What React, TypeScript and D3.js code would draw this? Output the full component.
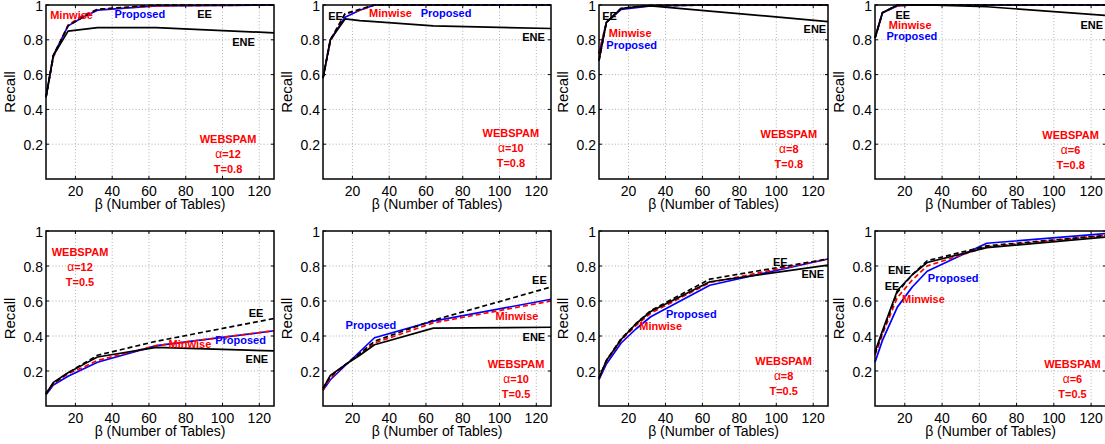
import React from "react";
import * as d3 from "d3";

// ---- data ----
const tables = [4, 8, 16, 24, 32, 64, 128];
const xTickValues = [20, 40, 60, 80, 100, 120];
const yTickValues = [0.2, 0.4, 0.6, 0.8, 1];
const yTickLabels = ["0.2", "0.4", "0.6", "0.8", "1"];
const datasetName = "WEBSPAM";
const alphas = [12, 10, 8, 6, 12, 10, 8, 6];
const thresholds = ["0.8", "0.8", "0.8", "0.8", "0.5", "0.5", "0.5", "0.5"];

const proposedRecall = [
  [0.47, 0.71, 0.88, 0.93, 0.97, 0.995, 1.0],
  [0.58, 0.8, 0.93, 0.97, 1.0, 1.0, 1.0],
  [0.72, 0.9, 0.975, 0.985, 0.995, 1.0, 1.0],
  [0.81, 0.955, 0.995, 1.0, 1.0, 1.0, 1.0],
  [0.065, 0.12, 0.17, 0.21, 0.25, 0.345, 0.43],
  [0.09, 0.15, 0.23, 0.31, 0.39, 0.485, 0.61],
  [0.15, 0.24, 0.36, 0.44, 0.51, 0.69, 0.84],
  [0.25, 0.375, 0.565, 0.68, 0.77, 0.93, 0.985],
];
const minwiseRecall = [
  [0.47, 0.7, 0.885, 0.94, 0.975, 0.995, 1.0],
  [0.58, 0.79, 0.95, 0.97, 1.0, 1.0, 1.0],
  [0.72, 0.9, 0.98, 0.99, 1.0, 1.0, 1.0],
  [0.81, 0.955, 0.995, 1.0, 1.0, 1.0, 1.0],
  [0.07, 0.125, 0.185, 0.22, 0.26, 0.345, 0.43],
  [0.09, 0.16, 0.235, 0.295, 0.36, 0.475, 0.6],
  [0.155, 0.255, 0.375, 0.46, 0.53, 0.705, 0.84],
  [0.29, 0.41, 0.62, 0.72, 0.8, 0.91, 0.975],
];
const eeRecall = [
  [0.47, 0.71, 0.88, 0.93, 0.975, 1.0, 1.0],
  [0.58, 0.8, 0.95, 0.975, 1.0, 1.0, 1.0],
  [0.68, 0.9, 0.98, 0.99, 0.995, 1.0, 1.0],
  [0.81, 0.955, 1.0, 1.0, 1.0, 1.0, 1.0],
  [0.07, 0.13, 0.19, 0.24, 0.29, 0.37, 0.5],
  [0.1, 0.17, 0.235, 0.3, 0.37, 0.49, 0.68],
  [0.16, 0.26, 0.385, 0.47, 0.545, 0.725, 0.84],
  [0.3, 0.42, 0.65, 0.75, 0.83, 0.915, 0.975],
];
const eneRecall = [
  [0.47, 0.71, 0.85, 0.86, 0.87, 0.87, 0.84],
  [0.58, 0.8, 0.92, 0.91, 0.905, 0.88, 0.865],
  [0.68, 0.9, 0.98, 0.99, 0.995, 0.965, 0.905],
  [0.81, 0.955, 1.0, 1.0, 1.0, 0.99, 0.94],
  [0.07, 0.135, 0.19, 0.235, 0.28, 0.335, 0.315],
  [0.1, 0.175, 0.235, 0.29, 0.35, 0.445, 0.45],
  [0.16, 0.26, 0.38, 0.47, 0.54, 0.71, 0.805],
  [0.31, 0.43, 0.66, 0.75, 0.82, 0.905, 0.965],
];

// ---- layout / styles ----
const W = 1105;
const H = 444;
const colBounds = [
  [46, 274],
  [323, 551],
  [599, 828],
  [875, 1106],
];
const rowBounds = [
  [5, 179],
  [231, 406],
];

const seriesStyles = [
  { name: "Proposed", data: proposedRecall, color: "#0000ff", dash: null },
  { name: "Minwise", data: minwiseRecall, color: "#ff0000", dash: "5,3" },
  { name: "EE", data: eeRecall, color: "#000000", dash: "5,3" },
  { name: "ENE", data: eneRecall, color: "#000000", dash: null },
];
const drawOrder = [0, 1, 2, 3];

// annotation anchor positions in data coordinates (x: tables, y: recall)
const labelPos = [
  { Proposed: [55, 0.948], Minwise: [17.9, 0.943], EE: [90.2, 0.948], ENE: [111.4, 0.787], info: [103, 0.23] },
  { Proposed: [70.9, 0.954], Minwise: [40.7, 0.954], EE: [10.8, 0.937], ENE: [118.5, 0.816], info: [106.2, 0.264] },
  { Proposed: [21.7, 0.77], Minwise: [20.9, 0.839], EE: [9.7, 0.937], ENE: [120.9, 0.862], info: [106.8, 0.259] },
  { Proposed: [23.8, 0.822], Minwise: [22.9, 0.885], EE: [18.9, 0.943], ENE: [120.4, 0.885], info: [109, 0.253] },
  { Proposed: [109.8, 0.377], Minwise: [82.3, 0.354], EE: [118.2, 0.531], ENE: [118.7, 0.269], info: [22.5, 0.88] },
  { Proposed: [30.1, 0.463], Minwise: [109.5, 0.514], EE: [121.7, 0.72], ENE: [118.7, 0.394], info: [109, 0.24] },
  { Proposed: [54, 0.526], Minwise: [37.4, 0.457], EE: [102.2, 0.823], ENE: [119.8, 0.754], info: [104, 0.257] },
  { Proposed: [46, 0.731], Minwise: [30, 0.611], EE: [13.2, 0.686], ENE: [17, 0.777], info: [110, 0.24] },
];

const FONT = "'Liberation Sans', Arial, Helvetica, sans-serif";

function Panel({ idx }: { idx: number }) {
  const col = idx % 4;
  const row = Math.floor(idx / 4);
  const [x0, x1] = colBounds[col];
  const [y0, y1] = rowBounds[row];
  const x = d3.scaleLinear().domain([4, 128]).range([x0, x1]);
  const y = d3.scaleLinear().domain([0, 1]).range([y1, y0]);
  const line = d3
    .line<number>()
    .x((_, i) => x(tables[i]))
    .y((v) => y(v));
  const pos = labelPos[idx];

  return (
    <g>
      {xTickValues.map((t) => (
        <line key={"gx" + t} x1={x(t)} x2={x(t)} y1={y1} y2={y0} stroke="#9a9a9a" strokeWidth={0.8} strokeDasharray="1,2.2" />
      ))}
      {yTickValues.slice(0, 4).map((t) => (
        <line key={"gy" + t} x1={x0} x2={x1} y1={y(t)} y2={y(t)} stroke="#9a9a9a" strokeWidth={0.8} strokeDasharray="1,2.2" />
      ))}
      {xTickValues.map((t) => (
        <g key={"tx" + t}>
          <line x1={x(t)} x2={x(t)} y1={y1} y2={y1 - 3} stroke="#000" strokeWidth={1} />
          <line x1={x(t)} x2={x(t)} y1={y0} y2={y0 + 3} stroke="#000" strokeWidth={1} />
          <text x={x(t)} y={y1 + 17} textAnchor="middle" fontSize={14} fontFamily={FONT} fill="#000">
            {t}
          </text>
        </g>
      ))}
      {yTickValues.map((t, i) => (
        <g key={"ty" + t}>
          <line x1={x0} x2={x0 + 3} y1={y(t)} y2={y(t)} stroke="#000" strokeWidth={1} />
          <line x1={x1} x2={x1 - 3} y1={y(t)} y2={y(t)} stroke="#000" strokeWidth={1} />
          <text x={x0 - 3} y={y(t) + 5.5} textAnchor="end" fontSize={14} fontFamily={FONT} fill="#000">
            {yTickLabels[i]}
          </text>
        </g>
      ))}
      {drawOrder.map((si) => {
        const s = seriesStyles[si];
        return (
          <path
            key={s.name}
            d={line(s.data[idx]) || ""}
            fill="none"
            stroke={s.color}
            strokeWidth={1.7}
            strokeDasharray={s.dash || undefined}
            strokeLinejoin="round"
          />
        );
      })}
      <rect x={x0} y={y0} width={x1 - x0} height={y1 - y0} fill="none" stroke="#000" strokeWidth={1.5} />
      {seriesStyles.map((s) => {
        const p = (pos as any)[s.name] as number[];
        return (
          <text
            key={"l" + s.name}
            x={x(p[0])}
            y={y(p[1])}
            dy="0.35em"
            textAnchor="middle"
            fontSize={11}
            fontWeight="bold"
            fontFamily={FONT}
            fill={s.color}
          >
            {s.name}
          </text>
        );
      })}
      <g fill="#ff0000" fontSize={11} fontWeight="bold" fontFamily={FONT} textAnchor="middle">
        <text x={x(pos.info[0])} y={y(pos.info[1])} dy="0.35em">
          {datasetName}
        </text>
        <text x={x(pos.info[0])} y={y(pos.info[1]) + 15} dy="0.35em">
          <tspan fontWeight="normal" fontSize={12}>α</tspan>
          <tspan>={alphas[idx]}</tspan>
        </text>
        <text x={x(pos.info[0])} y={y(pos.info[1]) + 30} dy="0.35em">
          T={thresholds[idx]}
        </text>
      </g>
      <text
        transform={`translate(${x0 - 31},${(y0 + y1) / 2}) rotate(-90)`}
        textAnchor="middle"
        fontSize={15}
        fontFamily={FONT}
        fill="#000"
      >
        Recall
      </text>
      <text x={(x0 + x1) / 2} y={y1 + 30} textAnchor="middle" fontSize={14} fontFamily={FONT} fill="#000">
        β (Number of Tables)
      </text>
    </g>
  );
}

export default function App() {
  return (
    <svg
      width={W}
      height={H}
      viewBox={`0 0 ${W} ${H}`}
      style={{ position: "fixed", left: 0, top: 0, display: "block", background: "#fff" }}
    >
      <rect x={0} y={0} width={W} height={H} fill="#fff" />
      {d3.range(8).map((i) => (
        <Panel key={i} idx={i} />
      ))}
    </svg>
  );
}
